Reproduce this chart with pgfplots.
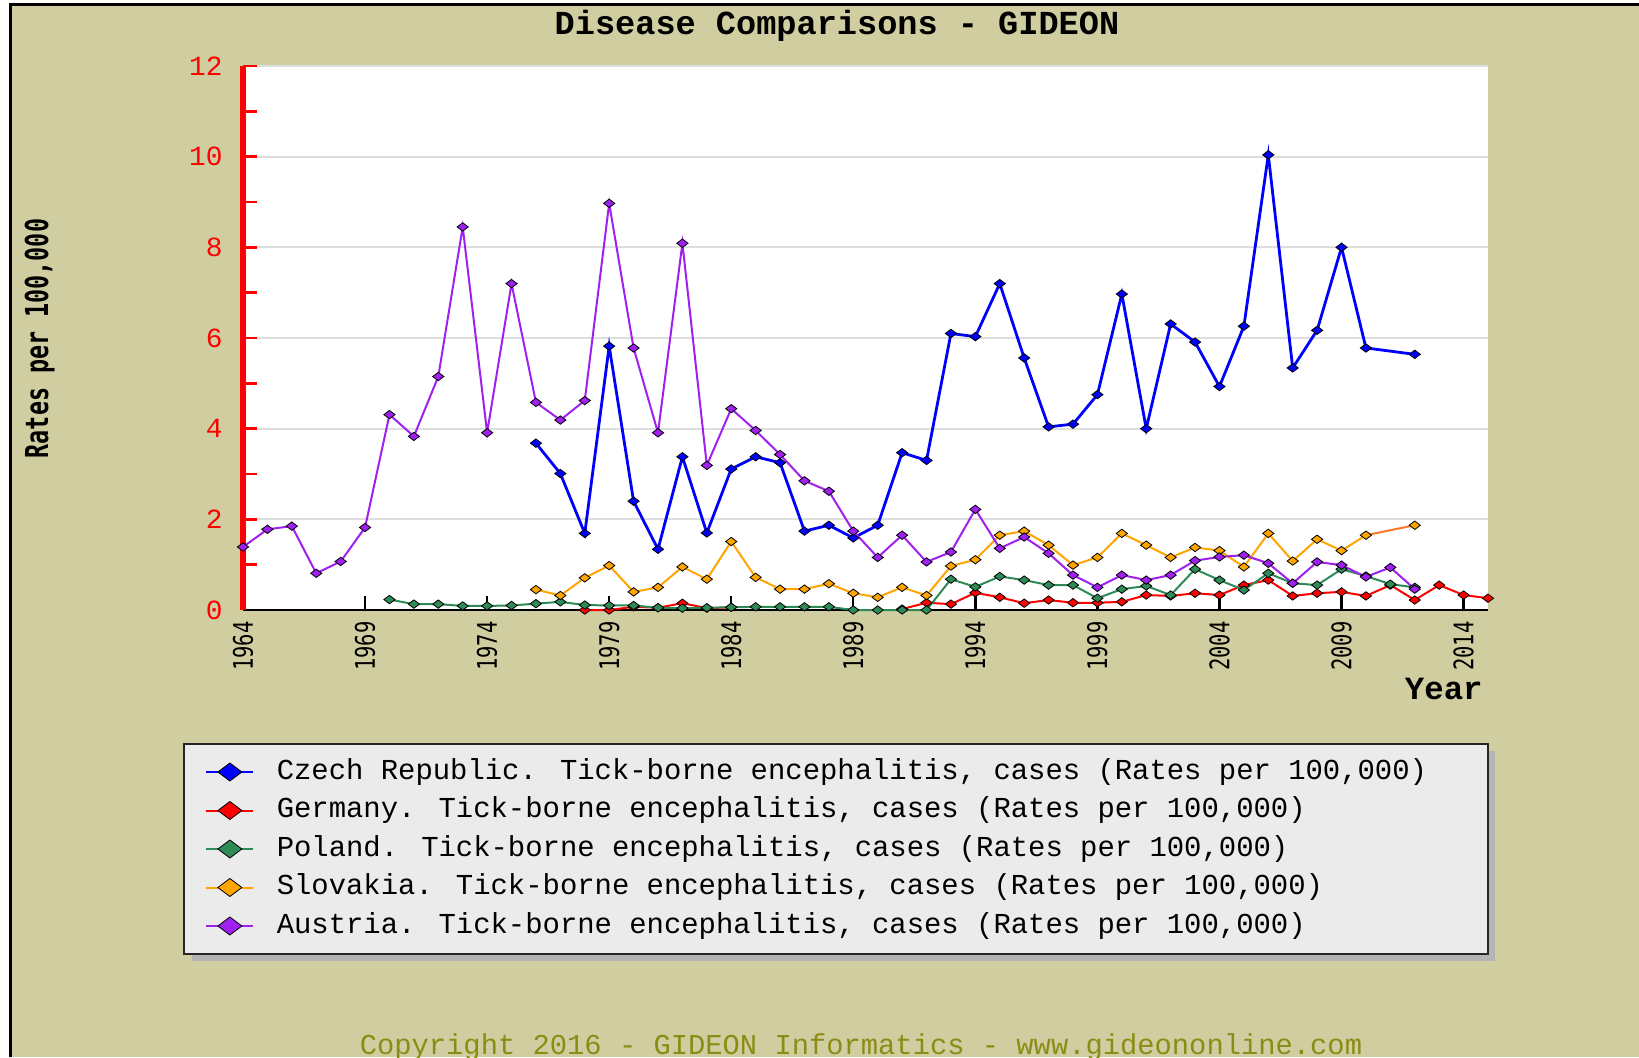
\documentclass[border=0pt]{standalone}
\usepackage{fontspec}
\usepackage{pgfplots}
\usepackage{pgfplotstable}
\pgfplotsset{compat=1.18}
\setmainfont{Liberation Mono}
\newfontfamily\monofont{Liberation Mono}
\newfontfamily\narrowfont{DejaVu Sans Mono}[FakeStretch=0.76]
\newfontfamily\narrowbold{DejaVu Sans Mono}[FakeStretch=0.74]

\definecolor{olivebg}{RGB}{208,206,160}
\definecolor{czcol}{RGB}{0,0,255}
\definecolor{decol}{RGB}{255,0,0}
\definecolor{plcol}{RGB}{46,139,87}
\definecolor{skcol}{RGB}{255,165,0}
\definecolor{skred}{RGB}{255,120,40}
\definecolor{aucol}{RGB}{160,32,240}
\definecolor{copyc}{RGB}{140,140,20}
\definecolor{legbg}{RGB}{235,235,235}
\definecolor{gridc}{RGB}{222,222,222}
\definecolor{shadowc}{RGB}{180,180,180}

\pgfplotstableread{
year val
1976 3.68
1977 3.01
1978 1.69
1979 5.82
1980 2.40
1981 1.34
1982 3.38
1983 1.70
1984 3.11
1985 3.38
1986 3.25
1987 1.74
1988 1.87
1989 1.59
1990 1.87
1991 3.47
1992 3.30
1993 6.10
1994 6.03
1995 7.20
1996 5.56
1997 4.04
1998 4.10
1999 4.75
2000 6.97
2001 4.00
2002 6.31
2003 5.91
2004 4.93
2005 6.26
2006 10.04
2007 5.34
2008 6.17
2009 8.00
2010 5.78
2012 5.64
}\czech

\pgfplotstableread{
year val
1978 0.00
1979 0.00
1980 0.07
1981 0.05
1982 0.15
1983 0.04
1984 0.06
1985 nan
1991 0.02
1992 0.16
1993 0.13
1994 0.38
1995 0.28
1996 0.15
1997 0.22
1998 0.16
1999 0.16
2000 0.18
2001 0.33
2002 0.31
2003 0.37
2004 0.33
2005 0.55
2006 0.66
2007 0.31
2008 0.37
2009 0.40
2010 0.31
2011 0.55
2012 0.22
2013 0.55
2014 0.33
2015 0.26
}\germany

\pgfplotstableread{
year val
1970 0.23
1971 0.13
1972 0.13
1973 0.09
1974 0.09
1975 0.10
1976 0.14
1977 0.18
1978 0.11
1979 0.10
1980 0.10
1981 0.05
1982 0.04
1983 0.05
1984 0.06
1985 0.07
1986 0.07
1987 0.07
1988 0.07
1989 0.00
1990 0.00
1991 0.00
1992 0.00
1993 0.68
1994 0.51
1995 0.74
1996 0.66
1997 0.55
1998 0.55
1999 0.26
2000 0.46
2001 0.53
2002 0.33
2003 0.90
2004 0.66
2005 0.44
2006 0.81
2007 0.59
2008 0.55
2009 0.90
2010 0.75
2011 0.57
2012 0.50
}\poland

\pgfplotstableread{
year val
1976 0.45
1977 0.32
1978 0.71
1979 0.98
1980 0.40
1981 0.50
1982 0.95
1983 0.68
1984 1.51
1985 0.72
1986 0.46
1987 0.46
1988 0.58
1989 0.37
1990 0.28
1991 0.50
1992 0.32
1993 0.97
1994 1.11
1995 1.65
1996 1.74
1997 1.43
1998 0.99
1999 1.16
2000 1.69
2001 1.43
2002 1.16
2003 1.38
2004 1.31
2005 0.95
2006 1.69
2007 1.08
2008 1.56
2009 1.31
2010 1.65
2011 nan
2012 1.87
}\slovakia

\pgfplotstableread{
year val
2010 1.65
2012 1.87
}\slovakialink

\pgfplotstableread{
year val
1964 1.39
1965 1.78
1966 1.85
1967 0.81
1968 1.07
1969 1.82
1970 4.31
1971 3.83
1972 5.15
1973 8.45
1974 3.91
1975 7.20
1976 4.58
1977 4.19
1978 4.62
1979 8.97
1980 5.78
1981 3.91
1982 8.09
1983 3.19
1984 4.44
1985 3.96
1986 3.43
1987 2.85
1988 2.62
1989 1.74
1990 1.16
1991 1.65
1992 1.06
1993 1.28
1994 2.22
1995 1.36
1996 1.61
1997 1.25
1998 0.77
1999 0.50
2000 0.77
2001 0.66
2002 0.77
2003 1.09
2004 1.17
2005 1.21
2006 1.03
2007 0.59
2008 1.06
2009 0.99
2010 0.73
2011 0.94
2012 0.46
}\austria

\begin{document}
\begin{tikzpicture}
\useasboundingbox (0pt,0pt) rectangle (819.5pt,528.5pt);
\clip (0pt,0pt) rectangle (819.5pt,528.5pt);
\fill[white] (0pt,0pt) rectangle (819.5pt,528.5pt);
\fill[olivebg] (5pt,0pt) rectangle (819.5pt,526pt);
\draw[black, line width=1.5pt] (5pt,0pt) -- (5pt,526pt) -- (820pt,526pt);
% legend shadow
\fill[shadowc] (96pt,48pt) rectangle (747.5pt,153pt);

\begin{axis}[
  at={(121.5pt,223.5pt)}, anchor=south west,
  scale only axis, width=622.5pt, height=272pt,
  xmin=1964, xmax=2015, ymin=0, ymax=12,
  clip=false,
  unbounded coords=jump,
  axis lines*=left,
  axis background/.style={fill=white},
  x axis line style={black, line width=1.2pt},
  y axis line style={red, line width=3pt},
  xtick={1964,1969,...,2014},
  xticklabels={1964,1969,1974,1979,1984,1989,1994,1999,2004,2009,2014},
  ytick={0,2,...,12},
  yticklabels={0,2,4,6,8,10,12},
  minor ytick={1,3,...,11},
  tick align=inside,
  major tick length=7pt, minor tick length=7pt,
  xtick style={black, line width=1.2pt},
  ytick style={red, line width=1.3pt},
  ymajorgrids=true,
  major grid style={gridc, line width=1pt},
  xticklabel style={font=\narrowfont\fontsize{13.5}{13.5}\selectfont, yshift=-5.5pt, rotate=90, anchor=east, inner sep=0pt},
  yticklabel style={font=\monofont\fontsize{13.9}{14}\selectfont, text=red, anchor=east, inner sep=0pt, xshift=-10pt},
  every axis plot/.append style={mark=diamond*, mark size=2.8pt},
  legend cell align=left,
  legend style={at={(-0.0482,-0.2445)}, anchor=north west, fill=legbg, draw=black!85, line width=1pt,
    inner xsep=10.5pt, inner ysep=7.5pt, row sep=6.25pt,
    font=\monofont\fontsize{14.45}{14.5}\selectfont,
    nodes={inner sep=0pt, text height=10pt, text depth=3pt}},
  legend image code/.code={
    \draw[#1, mark=none] (0pt,0pt) -- (23.5pt,0pt);
    \draw[#1, mark size=6pt] plot coordinates {(11.75pt,0pt)};
    \path (34.5pt,0pt);
  },
]
\addplot[czcol, line width=1.4pt, mark options={rotate=90, draw=black, line width=0.4pt, fill=czcol}] table[x=year,y=val] {\czech};
\addlegendentry{\makebox[595pt][l]{Czech Republic. Tick-borne encephalitis, cases (Rates per 100,000)}}
\addplot[decol, line width=1pt, mark options={rotate=90, draw=black, line width=0.4pt, fill=decol}] table[x=year,y=val] {\germany};
\addlegendentry{Germany. Tick-borne encephalitis, cases (Rates per 100,000)}
\addplot[plcol, line width=1pt, mark options={rotate=90, draw=black, line width=0.4pt, fill=plcol}] table[x=year,y=val] {\poland};
\addlegendentry{Poland. Tick-borne encephalitis, cases (Rates per 100,000)}
\addplot[skred, line width=1pt, mark=none, forget plot] table[x=year,y=val] {\slovakialink};
\addplot[skcol, line width=1pt, mark options={rotate=90, draw=black, line width=0.4pt, fill=skcol}] table[x=year,y=val] {\slovakia};
\addlegendentry{Slovakia. Tick-borne encephalitis, cases (Rates per 100,000)}
\addplot[aucol, line width=1pt, mark options={rotate=90, draw=black, line width=0.4pt, fill=aucol}] table[x=year,y=val] {\austria};
\addlegendentry{Austria. Tick-borne encephalitis, cases (Rates per 100,000)}
\end{axis}

\node[anchor=base, font=\monofont\bfseries\fontsize{16.8}{17}\selectfont] at (418.5pt,511pt) {Disease Comparisons - GIDEON};
\node[rotate=90, anchor=base, font=\narrowbold\bfseries\fontsize{15.8}{16}\selectfont] at (24pt,359.25pt) {Rates per 100,000};
\node[anchor=base, font=\monofont\bfseries\fontsize{16.2}{17}\selectfont] at (721.9pt,179pt) {Year};
\node[anchor=base, text=copyc, font=\monofont\fontsize{14.4}{15}\selectfont] at (430.5pt,1.5pt) {Copyright 2016 - GIDEON Informatics - www.gideononline.com};
\end{tikzpicture}
\end{document}
